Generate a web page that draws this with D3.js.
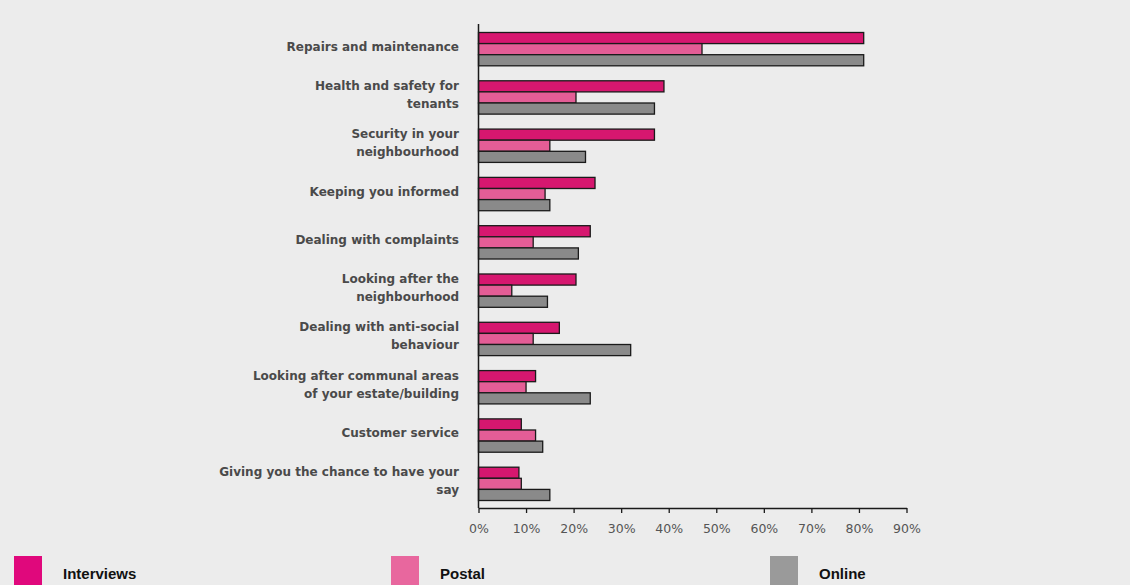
<!DOCTYPE html>
<html><head><meta charset="utf-8">
<script src="https://cdn.jsdelivr.net/npm/d3@7"></script>
<style>body{margin:0;background:#ececec;}svg{display:block;}</style>
</head><body>
<svg id="c" width="1130" height="585"></svg>
<script>
const categories = [
  ["Repairs and maintenance"],
  ["Health and safety for","tenants"],
  ["Security in your","neighbourhood"],
  ["Keeping you informed"],
  ["Dealing with complaints"],
  ["Looking after the","neighbourhood"],
  ["Dealing with anti-social","behaviour"],
  ["Looking after communal areas","of your estate/building"],
  ["Customer service"],
  ["Giving you the chance to have your","say"]
];
const seriesNames = ["Interviews","Postal","Online"];
const interviews = [81, 39, 37, 24.5, 23.5, 20.5, 17, 12, 9, 8.5];
const postal     = [47, 20.5, 15, 14, 11.5, 7, 11.5, 10, 12, 9];
const online     = [81, 37, 22.5, 15, 21, 14.5, 32, 23.5, 13.5, 15];
const tickValues = [0,10,20,30,40,50,60,70,80,90];

const colors = ["#d6176f","#e45d96","#8a8a8a"];
const legendColors = ["#e0087c","#e8679e","#9a9a9a"];
const seriesVals = [interviews, postal, online];

const svg = d3.select("#c");
svg.append("rect").attr("width",1130).attr("height",585).attr("fill","#ececec");

const x = d3.scaleLinear().domain([0,90]).range([478.5, 906.5]);
const y = d3.scaleBand().domain(d3.range(categories.length)).range([25, 508]).paddingInner(0.31).paddingOuter(0.155);
const ys = d3.scaleBand().domain(d3.range(3)).range([0, y.bandwidth()]);

const g = svg.append("g");
categories.forEach((c, i) => {
  seriesVals.forEach((vals, s) => {
    g.append("rect")
      .attr("x", x(0))
      .attr("y", y(i) + ys(s))
      .attr("width", x(vals[i]) - x(0))
      .attr("height", ys.bandwidth())
      .attr("fill", colors[s])
      .attr("stroke", "#1a1a1a")
      .attr("stroke-width", 1.3);
  });
  const cy = y(i) + y.bandwidth()/2;
  const lh = 18;
  const t = g.append("text")
    .attr("text-anchor","end")
    .attr("font-family","DejaVu Sans")
    .attr("font-weight","bold")
    .attr("font-size","12px")
    .attr("fill","#4a4a4a");
  c.forEach((line, k) => {
    t.append("tspan").attr("x", 459)
      .attr("y", cy + (k - (c.length-1)/2)*lh + 1.5)
      .text(line);
  });
});

// axes
const xAxis = d3.axisBottom(x).tickValues(tickValues).tickFormat(d => d + "%").tickSize(5).tickSizeOuter(0);
const ax = svg.append("g").attr("transform","translate(0,508)").call(xAxis);
ax.select(".domain").attr("stroke","#1a1a1a").attr("stroke-width",1.5);
ax.selectAll(".tick line").attr("stroke","#1a1a1a").attr("stroke-width",1.3);
ax.selectAll(".tick text").attr("font-family","DejaVu Sans").attr("font-size","12.5px").attr("fill","#555").attr("y",25).attr("dy",0);

svg.append("line").attr("x1",x(0)).attr("x2",x(0)).attr("y1",24).attr("y2",508).attr("stroke","#1a1a1a").attr("stroke-width",1.5);

// legend
const legX = [14, 391, 770];
seriesNames.forEach((n, s) => {
  svg.append("rect").attr("x", legX[s]).attr("y", 556).attr("width", 28).attr("height", 32).attr("fill", legendColors[s]);
  svg.append("text").attr("x", legX[s] + 49).attr("y", 579)
    .attr("font-family","Liberation Sans, Arial, sans-serif").attr("font-size","15px").attr("font-weight","bold").attr("fill","#111")
    .text(n);
});
</script>
</body></html>
